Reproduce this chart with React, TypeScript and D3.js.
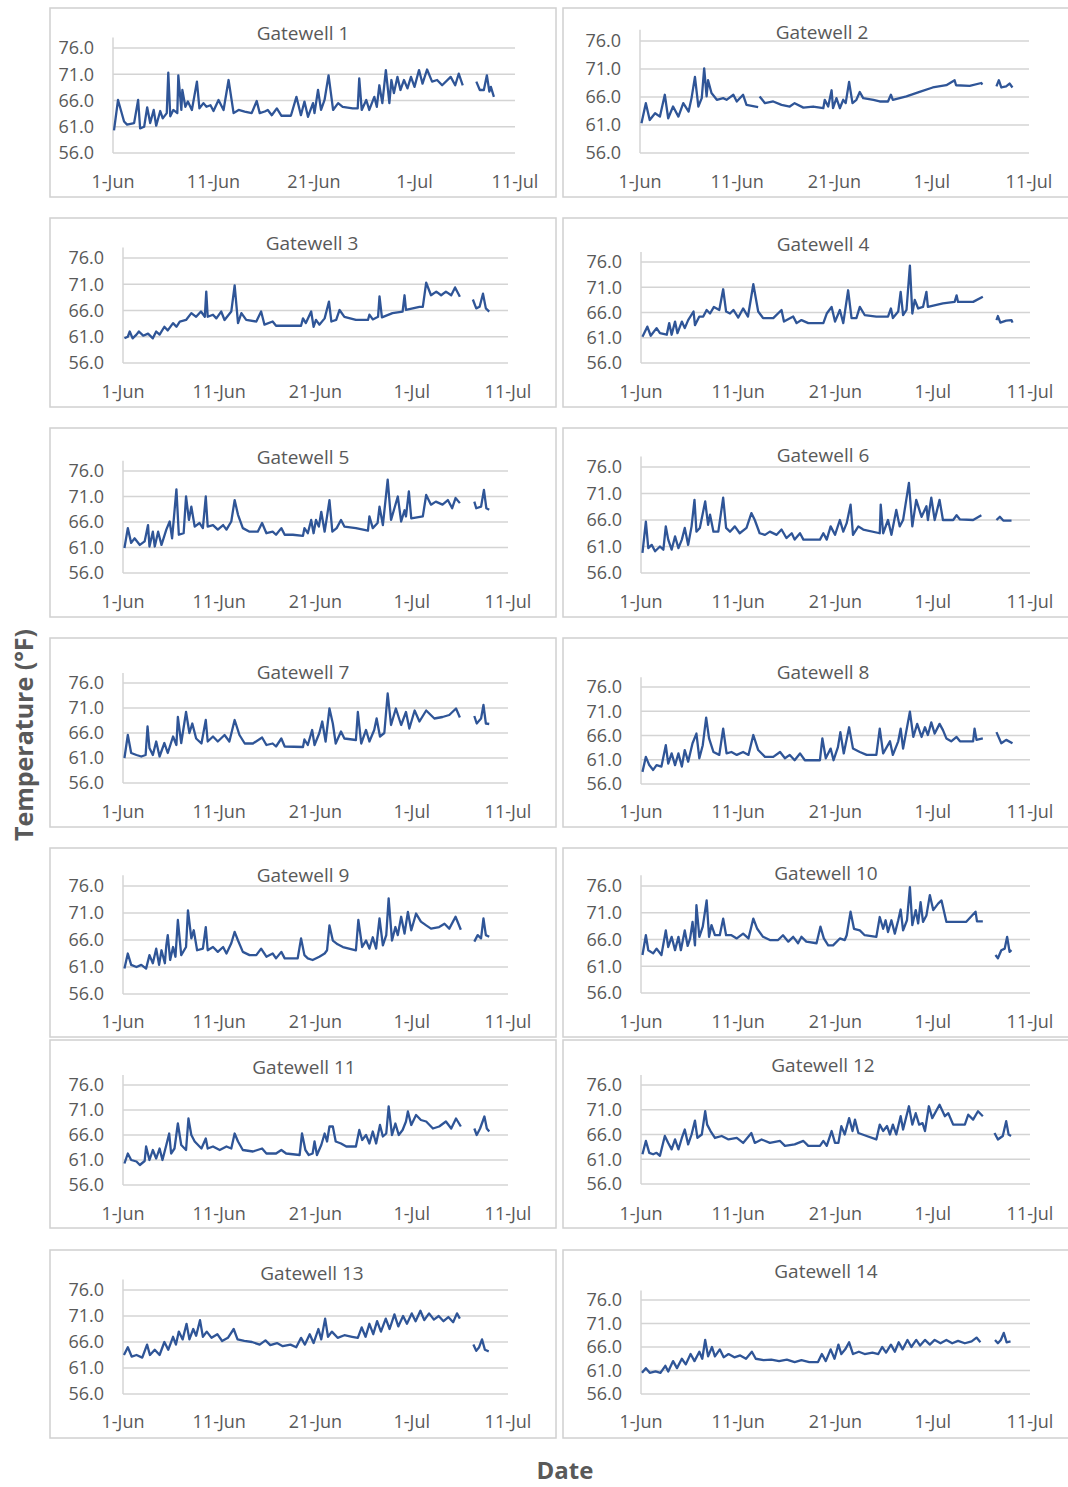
import React from 'react';
import * as d3 from 'd3';

type Pt = [number, number] | null;

// Day offsets from 1-Jun (0 = 1-Jun 00:00), temperature in °F. null = gap in record.
const TITLES = [
  'Gatewell 1', 'Gatewell 2', 'Gatewell 3', 'Gatewell 4', 'Gatewell 5', 'Gatewell 6', 'Gatewell 7',
  'Gatewell 8', 'Gatewell 9', 'Gatewell 10', 'Gatewell 11', 'Gatewell 12', 'Gatewell 13', 'Gatewell 14',
];
const Y_TICKS = [56, 61, 66, 71, 76];
const Y_MAX = 78;
const X_TICK_DAYS = [0, 10, 20, 30, 40];
const X_TICK_LABELS = ['1-Jun', '11-Jun', '21-Jun', '1-Jul', '11-Jul'];

const GW1: Pt[] = [[0.1,60.3],[0.5,66.1],[1.1,62],[1.4,61.4],[2.1,61.7],[2.5,66.1],[2.7,60.7],[3.1,61],[3.4,64.7],[3.7,61.7],[4.05,64.2],[4.3,61.2],[4.7,64],[4.95,62.6],[5.35,63.6],[5.5,71.3],[5.7,63],[6.0,64.2],[6.4,63.6],[6.5,70.8],[6.8,64.2],[6.9,68],[7.2,64.8],[7.45,65.8],[7.85,64.2],[8.35,69.6],[8.6,64.5],[9.0,65.5],[9.3,64.8],[9.7,65.1],[10.0,64],[10.5,66.1],[11.0,64.2],[11.5,69.9],[12.0,63.6],[12.5,64.2],[13.1,63.9],[13.8,63.6],[14.3,65.9],[14.6,63.6],[15.1,63.9],[15.4,64.2],[15.8,63.2],[16.3,64.5],[16.75,63.1],[17.7,63.1],[18.25,66.7],[18.7,63.2],[19.05,65.8],[19.4,62.9],[19.9,65.5],[20.05,63.6],[20.4,68],[20.7,64.2],[21.05,66.1],[21.45,70.8],[21.9,64.2],[22.4,65.5],[22.85,64.8],[23.85,64.5],[24.35,64.5],[24.5,70.2],[24.75,64.2],[25.2,66.1],[25.5,64.2],[26.0,66.7],[26.25,64.8],[26.5,68.9],[26.8,65.5],[27.15,71.8],[27.5,65.5],[27.7,69.9],[27.95,67.4],[28.3,70.5],[28.6,68],[28.95,69.9],[29.3,68.3],[29.65,70.5],[30.0,68.6],[30.45,71.8],[30.8,69.2],[31.25,71.9],[31.75,69.6],[32.25,69.9],[32.75,68.9],[33.6,70.5],[34.05,68.9],[34.4,71.1],[34.8,68.9],null,[36.15,69.6],[36.5,68],[36.9,68],[37.2,70.8],[37.45,67.7],[37.6,68.6],[37.9,66.7]];

const GW2: Pt[] = [[0.15,61.3],[0.6,64.9],[1.0,61.9],[1.55,63.1],[2.05,62.5],[2.55,66.4],[2.9,62.2],[3.4,64.3],[3.95,62.5],[4.45,64.9],[5.0,63.4],[5.3,65.8],[5.65,69.6],[6.0,64.3],[6.35,65.8],[6.6,71.1],[6.85,66.1],[7.0,69.0],[7.35,66.7],[7.9,65.5],[8.55,65.8],[8.9,65.5],[9.6,66.4],[9.95,65.2],[10.6,66.4],[10.95,64.6],[12.15,64.2],null,[12.3,66.1],[12.85,64.9],[13.7,65.2],[14.55,64.6],[15.4,64.3],[15.9,64.9],[16.8,64.1],[17.8,64.3],[18.85,64.0],[19.0,65.5],[19.35,64.3],[19.7,67.2],[19.85,64.0],[20.2,65.8],[20.55,64.0],[20.9,65.5],[21.15,64.9],[21.5,68.7],[21.85,64.9],[22.25,65.5],[22.6,66.9],[22.95,65.8],[24.0,65.5],[24.65,65.2],[25.5,65.2],[25.8,66.4],[26.0,65.5],[27.4,66.1],[28.75,66.9],[30.1,67.7],[31.5,68.1],[32.35,69.0],[32.5,68.1],[33.9,68.0],[35.1,68.5],[35.2,68.2],null,[36.65,67.9],[36.9,69.0],[37.15,67.7],[37.65,67.9],[38.0,68.4],[38.3,67.7]];

const GW3: Pt[] = [[0.15,60.7],[0.5,61.0],[0.7,62.0],[1.0,60.7],[1.4,61.4],[1.65,62.0],[2.1,61.2],[2.6,61.6],[3.1,60.7],[3.45,62.0],[3.8,61.4],[4.3,62.9],[4.65,62.2],[5.2,63.6],[5.55,62.9],[5.9,63.9],[6.55,64.2],[7.1,65.5],[7.6,64.8],[8.1,65.8],[8.5,64.8],[8.65,69.6],[8.8,64.8],[9.35,65.2],[9.7,64.5],[10.2,65.8],[10.55,64.2],[11.25,65.8],[11.6,70.8],[11.95,63.6],[12.3,65.5],[12.8,64.2],[13.85,63.9],[14.35,65.8],[14.7,63.3],[15.55,63.9],[15.9,63.1],[17.65,63.1],[18.5,63.1],[18.7,64.5],[19.0,63.6],[19.55,65.8],[19.8,62.9],[20.05,64.2],[20.4,63.3],[20.95,64.5],[21.4,67.7],[21.65,63.9],[22.15,64.2],[22.5,66.1],[23.0,64.8],[24.2,64.2],[25.45,64.2],[25.6,65.2],[25.95,64.3],[26.5,64.8],[26.65,68.7],[26.9,64.7],[28.0,65.5],[29.05,65.8],[29.25,68.9],[29.4,66.1],[30.8,66.7],[31.15,66.7],[31.5,71.3],[32.0,68.9],[32.55,69.6],[33.05,68.9],[33.55,69.6],[34.1,68.9],[34.5,70.4],[35.0,68.6],null,[36.35,68.1],[36.7,66.4],[37.05,66.7],[37.4,69.2],[37.7,66.4],[38.05,65.8]];

const GW4: Pt[] = [[0.15,61.2],[0.65,63.2],[1.0,61.4],[1.6,62.9],[1.95,61.9],[2.65,61.6],[2.9,63.9],[3.15,61.6],[3.5,64.2],[3.75,61.9],[4.2,64.2],[4.5,62.9],[4.85,64.5],[5.4,66.2],[5.55,63.5],[6.0,65.2],[6.4,65.2],[6.75,66.5],[7.1,65.8],[7.5,67.1],[8.05,66.5],[8.45,70.6],[8.75,66.2],[9.15,65.8],[9.5,66.5],[10.0,65.0],[10.5,66.8],[11.0,65.2],[11.55,71.6],[12.05,66.2],[12.55,64.9],[13.6,64.9],[14.45,66.5],[14.7,64.2],[15.65,65.2],[16.0,63.9],[16.5,64.5],[17.2,63.9],[18.75,63.9],[19.1,65.8],[19.6,67.1],[19.95,64.2],[20.45,66.5],[20.8,63.9],[21.3,70.4],[21.65,64.9],[22.15,64.9],[22.5,67.1],[23.0,65.5],[24.2,65.2],[25.4,65.2],[25.7,66.8],[25.9,64.9],[26.45,66.2],[26.7,70.1],[26.95,65.5],[27.3,66.5],[27.65,75.3],[27.9,65.8],[28.15,68.5],[28.5,66.8],[29.0,67.1],[29.35,70.1],[29.5,67.1],[31.05,67.8],[32.25,68.1],[32.45,69.4],[32.6,68.1],[34.15,68.1],[35.15,69.1],null,[36.55,64.5],[36.7,65.3],[36.95,64.0],[37.55,64.4],[38.1,64.5],[38.2,64.0]];

const GW5: Pt[] = [[0.15,60.9],[0.5,64.8],[0.85,61.9],[1.2,62.8],[1.75,61.5],[2.25,62.2],[2.6,65.4],[2.75,61.2],[3.1,64.1],[3.3,61.2],[3.65,64.1],[4.0,61.5],[4.5,64.5],[4.85,66.1],[5.1,62.8],[5.55,72.4],[5.8,63.5],[6.3,63.8],[6.55,71.0],[6.85,66.4],[7.1,69.0],[7.45,65.1],[7.95,65.8],[8.3,64.8],[8.6,71.0],[8.8,65.1],[9.35,65.4],[9.85,64.5],[10.4,65.4],[10.75,64.5],[11.25,66.1],[11.6,70.3],[11.95,67.4],[12.45,64.8],[13.15,64.1],[14.0,64.1],[14.45,65.8],[14.9,63.8],[15.55,64.1],[15.9,63.5],[16.45,64.8],[16.8,63.5],[17.65,63.5],[18.7,63.3],[18.85,64.8],[19.2,63.8],[19.55,66.4],[19.8,63.8],[20.05,66.4],[20.35,65.1],[20.6,68.0],[20.95,64.1],[21.2,67.1],[21.45,70.3],[21.75,64.1],[22.2,64.8],[22.65,66.4],[23.0,65.1],[24.2,64.8],[25.45,64.3],[25.6,67.1],[25.95,64.8],[26.45,65.8],[26.65,69.0],[27.0,65.4],[27.5,74.3],[27.85,66.4],[28.2,68.7],[28.55,71.0],[28.9,66.1],[29.25,68.3],[29.4,67.1],[29.7,72.0],[29.95,66.7],[31.15,67.1],[31.5,71.3],[32.0,69.4],[32.5,70.0],[33.2,69.4],[33.75,70.3],[34.2,68.7],[34.55,70.7],[35.0,69.7],null,[36.5,70.0],[36.7,68.7],[37.2,69.0],[37.5,72.3],[37.75,68.7],[38.05,68.4]];

const GW6: Pt[] = [[0.15,59.8],[0.5,65.7],[0.75,60.7],[1.1,61.3],[1.45,60.1],[1.95,61.0],[2.3,60.4],[2.55,64.8],[2.8,62.3],[3.15,60.4],[3.5,62.9],[3.85,60.7],[4.2,62.3],[4.5,64.5],[4.85,61.3],[5.2,64.8],[5.5,69.8],[5.7,63.8],[6.05,64.5],[6.6,69.5],[6.9,65.1],[7.1,67.0],[7.45,63.8],[7.95,63.8],[8.45,70.2],[8.75,64.5],[9.15,63.8],[9.65,64.8],[10.15,63.5],[10.85,64.5],[11.35,67.3],[11.7,66.0],[12.2,63.5],[12.75,63.2],[13.25,63.8],[13.95,63.2],[14.45,64.2],[14.95,62.6],[15.5,63.5],[15.8,62.3],[16.35,63.5],[16.7,62.3],[18.4,62.3],[18.75,63.5],[19.1,62.3],[19.5,64.8],[19.95,63.2],[20.45,66.0],[20.8,63.8],[21.15,65.4],[21.55,68.9],[21.8,63.2],[22.35,64.8],[22.85,64.2],[24.55,63.5],[24.65,68.9],[24.9,63.5],[25.4,66.0],[25.75,63.2],[26.25,67.9],[26.6,64.8],[26.95,66.0],[27.55,73.0],[27.9,64.8],[28.3,69.8],[28.85,66.6],[29.35,68.6],[29.5,66.0],[29.85,70.2],[30.2,66.0],[30.7,69.8],[31.05,66.0],[32.1,66.0],[32.45,66.9],[32.8,66.1],[34.15,66.0],[35.0,66.9],null,[36.55,66.0],[36.9,66.6],[37.25,65.9],[38.1,65.9]];

const GW7: Pt[] = [[0.15,61.0],[0.5,65.6],[0.85,62.0],[1.4,61.6],[1.9,61.3],[2.35,61.6],[2.55,67.3],[2.75,63.0],[3.1,61.6],[3.45,64.3],[3.8,61.3],[4.3,64.0],[4.65,62.0],[5.2,65.3],[5.55,63.6],[5.7,69.2],[6.05,64.0],[6.55,70.2],[6.9,66.0],[7.2,67.9],[7.6,64.9],[8.15,63.9],[8.6,68.6],[8.8,64.3],[9.35,65.3],[9.85,64.3],[10.55,65.6],[11.05,64.3],[11.6,68.6],[12.1,65.6],[12.65,63.9],[13.5,63.9],[14.45,65.1],[14.9,63.6],[15.55,63.9],[15.9,63.3],[16.45,64.9],[16.8,63.3],[18.7,63.2],[18.85,64.7],[19.2,63.6],[19.65,66.6],[19.9,63.6],[20.4,66.0],[20.7,68.3],[21.05,64.3],[21.45,70.9],[21.8,67.9],[22.1,63.9],[22.65,66.3],[23.0,64.9],[24.2,64.6],[24.4,70.2],[24.75,63.9],[25.25,66.6],[25.6,64.3],[26.1,66.6],[26.35,68.9],[26.7,65.3],[27.15,66.0],[27.5,73.9],[27.85,67.6],[28.35,70.9],[28.9,67.6],[29.4,70.2],[29.75,66.9],[30.3,70.5],[30.8,68.3],[31.5,70.5],[32.35,68.9],[33.2,69.2],[33.9,69.6],[34.6,70.9],[35.0,69.1],null,[36.5,69.4],[36.75,67.9],[37.2,68.9],[37.45,71.6],[37.7,67.9],[38.05,67.8]];

const GW8: Pt[] = [[0.15,58.5],[0.5,61.6],[0.85,59.9],[1.25,58.9],[1.6,59.9],[2.1,59.6],[2.55,64.0],[2.8,60.2],[3.15,62.3],[3.5,59.9],[3.85,62.3],[4.2,59.6],[4.5,63.0],[4.85,60.6],[5.3,64.4],[5.7,66.4],[6.0,61.3],[6.35,64.0],[6.7,69.7],[7.0,65.4],[7.45,62.6],[8.05,62.0],[8.45,67.4],[8.8,62.3],[9.3,62.6],[9.85,62.0],[10.5,62.6],[11.05,62.0],[11.55,66.1],[12.05,63.0],[12.75,61.6],[13.6,61.6],[14.3,62.6],[14.8,61.3],[15.3,62.0],[15.8,60.9],[16.35,62.3],[16.85,60.9],[18.4,60.9],[18.65,65.4],[19.0,61.3],[19.5,63.3],[19.8,60.9],[20.25,63.6],[20.5,66.7],[20.85,62.3],[21.4,67.7],[21.8,63.3],[22.5,62.6],[23.2,62.0],[24.2,62.0],[24.55,67.4],[24.9,62.3],[25.6,64.8],[25.9,62.0],[26.45,64.8],[26.7,67.4],[26.95,63.3],[27.65,70.9],[28.0,65.7],[28.4,68.4],[28.85,65.7],[29.2,67.7],[29.5,66.1],[29.85,68.7],[30.2,66.4],[30.7,68.4],[31.05,67.1],[31.4,65.4],[31.9,64.8],[32.45,65.7],[32.8,64.8],[34.15,64.8],[34.3,67.4],[34.5,65.1],[35.15,65.4],null,[36.55,66.7],[37.05,64.4],[37.55,65.1],[38.2,64.4]];

const GW9: Pt[] = [[0.15,60.7],[0.5,63.5],[0.85,61.4],[1.4,61.0],[1.9,61.4],[2.4,60.7],[2.75,63.2],[3.1,61.7],[3.45,64.4],[3.75,61.4],[4.0,64.1],[4.35,61.7],[4.5,65.0],[4.65,66.9],[4.9,62.3],[5.2,64.7],[5.45,62.9],[5.7,69.7],[6.05,63.2],[6.55,64.7],[6.75,71.5],[7.1,66.3],[7.35,67.8],[7.7,64.1],[8.3,64.4],[8.6,68.4],[8.8,64.1],[9.35,64.7],[9.85,63.8],[10.4,64.7],[10.75,63.5],[11.25,65.4],[11.6,67.5],[11.95,65.9],[12.45,63.8],[13.15,63.2],[13.85,63.2],[14.35,64.4],[14.9,62.9],[15.55,63.5],[15.9,62.6],[16.45,63.8],[16.8,62.6],[18.15,62.6],[18.5,66.3],[18.85,63.2],[19.2,62.6],[19.7,62.3],[20.4,62.9],[20.95,63.5],[21.2,64.1],[21.45,68.7],[21.8,65.9],[22.3,65.2],[22.85,64.7],[24.2,64.1],[24.45,69.7],[24.85,64.7],[25.25,65.9],[25.6,64.4],[25.95,66.5],[26.3,64.4],[26.65,70.0],[27.0,65.0],[27.35,66.9],[27.6,73.7],[27.95,65.9],[28.3,68.4],[28.55,66.9],[28.9,70.3],[29.25,67.2],[29.6,71.2],[29.95,67.8],[30.45,70.9],[30.95,69.4],[31.5,68.7],[32.0,68.1],[32.85,68.4],[33.4,69.0],[33.9,68.1],[34.55,70.3],[35.1,67.9],null,[36.5,65.7],[36.85,66.9],[37.2,66.3],[37.45,70.0],[37.7,66.9],[38.05,66.6]];

const GW10: Pt[] = [[0.15,63.1],[0.5,66.8],[0.75,64.0],[1.25,63.4],[1.6,64.3],[2.1,63.1],[2.55,67.7],[2.8,64.6],[3.15,66.5],[3.5,64.0],[3.85,66.5],[4.1,64.0],[4.5,67.7],[4.8,64.8],[5.05,66.2],[5.3,69.3],[5.55,64.9],[5.7,72.4],[6.0,66.5],[6.35,68.4],[6.75,73.3],[7.0,66.5],[7.25,68.7],[7.6,66.8],[8.1,66.8],[8.45,69.9],[8.75,66.8],[9.3,66.8],[9.85,66.2],[10.5,67.1],[11.05,66.2],[11.55,69.9],[11.95,68.0],[12.55,66.5],[13.25,65.9],[14.1,65.9],[14.6,66.8],[15.15,65.6],[15.65,66.5],[16.15,65.3],[16.5,66.5],[17.0,65.6],[18.05,65.3],[18.45,68.4],[18.8,66.2],[19.25,64.9],[19.75,64.9],[20.45,66.2],[20.95,65.9],[21.15,66.8],[21.55,71.2],[21.9,68.0],[22.5,67.7],[23.0,66.8],[24.2,66.5],[24.55,70.2],[24.9,68.0],[25.15,69.6],[25.4,67.4],[25.75,69.6],[26.1,67.1],[26.45,69.6],[26.7,71.6],[26.95,67.7],[27.35,69.6],[27.65,75.8],[27.9,68.7],[28.25,71.5],[28.5,69.0],[28.75,73.0],[29.0,69.3],[29.35,70.5],[29.7,74.3],[30.05,71.5],[30.55,72.7],[30.9,73.3],[31.4,69.3],[32.1,69.3],[33.45,69.3],[34.4,71.2],[34.55,69.4],[35.15,69.4],null,[36.45,63.1],[36.7,62.5],[37.05,64.0],[37.4,64.3],[37.65,66.5],[37.9,63.7],[38.1,64.0]];

const GW11: Pt[] = [[0.15,60.3],[0.5,62.3],[0.85,61.0],[1.4,60.7],[1.75,60.0],[2.25,60.8],[2.4,63.7],[2.75,61.0],[3.1,63.0],[3.45,61.3],[3.8,63.3],[4.1,61.0],[4.5,64.0],[4.8,66.3],[5.0,62.3],[5.35,63.3],[5.7,68.3],[6.05,64.0],[6.55,63.0],[6.8,69.3],[7.1,66.0],[7.45,64.7],[8.15,63.3],[8.6,65.3],[8.8,63.3],[9.35,63.7],[10.05,63.0],[10.75,63.7],[11.25,63.3],[11.6,66.3],[11.95,64.7],[12.45,63.0],[13.5,62.7],[14.45,63.3],[14.9,62.3],[15.9,62.3],[16.45,63.0],[16.95,62.3],[18.35,62.0],[18.6,66.3],[18.95,63.0],[19.3,62.0],[19.7,62.3],[19.9,64.7],[20.15,62.0],[20.6,64.0],[20.95,66.3],[21.2,64.7],[21.45,67.7],[21.8,67.7],[22.1,64.7],[22.65,64.3],[23.2,63.7],[24.2,63.7],[24.55,67.0],[24.85,65.0],[25.25,66.0],[25.6,64.3],[25.95,66.7],[26.3,64.3],[26.7,68.0],[27.0,65.7],[27.35,66.3],[27.6,71.7],[27.95,66.0],[28.3,68.3],[28.65,66.0],[29.05,67.0],[29.4,68.7],[29.6,70.7],[29.95,68.0],[30.45,70.0],[30.95,69.0],[31.5,68.7],[32.2,67.3],[32.85,67.7],[33.55,68.7],[34.1,67.3],[34.6,69.3],[35.1,67.7],null,[36.5,67.3],[36.75,66.0],[37.1,67.3],[37.55,69.7],[37.8,67.3],[38.05,66.7]];

const GW12: Pt[] = [[0.15,62.0],[0.5,64.7],[0.85,62.3],[1.25,62.0],[1.6,62.3],[1.95,61.7],[2.45,65.7],[2.8,64.3],[3.15,63.0],[3.5,65.0],[3.85,63.0],[4.2,65.3],[4.5,67.0],[4.85,64.0],[5.2,66.0],[5.55,68.8],[5.8,65.3],[6.25,66.0],[6.6,70.7],[6.8,68.0],[7.15,66.7],[7.6,65.3],[8.3,65.7],[9.0,65.0],[9.85,65.3],[10.5,64.3],[11.35,66.3],[11.7,64.3],[12.4,65.0],[13.25,64.3],[14.3,64.7],[14.8,63.7],[15.8,64.0],[16.7,64.7],[17.2,63.7],[18.4,63.7],[18.75,64.7],[19.1,63.7],[19.6,66.7],[19.95,64.3],[20.3,64.3],[20.6,67.7],[20.95,66.0],[21.4,69.3],[21.75,66.7],[22.0,69.0],[22.35,66.3],[23.2,65.7],[24.2,65.0],[24.55,68.0],[24.9,66.7],[25.3,67.7],[25.6,66.0],[25.9,68.0],[26.25,66.0],[26.7,69.7],[26.95,67.0],[27.55,71.7],[27.9,68.0],[28.25,70.3],[28.6,68.0],[28.95,68.3],[29.2,66.7],[29.6,71.7],[29.95,69.3],[30.7,72.0],[31.25,69.7],[31.6,70.3],[32.1,68.0],[33.3,68.0],[33.65,70.0],[34.15,69.0],[34.65,70.7],[35.15,69.7],null,[36.35,66.3],[36.7,65.0],[37.2,65.7],[37.55,68.7],[37.8,66.0],[38.05,65.7]];

const GW13: Pt[] = [[0.1,63.5],[0.5,65],[0.9,63.2],[1.4,63.5],[2.0,63],[2.5,65.5],[2.8,63.5],[3.3,64.5],[3.8,63.5],[4.3,66],[4.7,64.5],[5.2,67],[5.5,65.5],[5.8,68],[6.2,66.5],[6.6,69.5],[6.9,66.5],[7.3,68.5],[7.6,67.2],[8.0,70.2],[8.3,67],[8.7,68],[9.2,66.8],[9.8,67.5],[10.3,66.2],[10.9,66.8],[11.5,68.5],[11.9,66.5],[12.6,66.2],[13.4,66],[14.2,65.5],[14.8,66.3],[15.3,65.4],[16.0,65.8],[16.6,65.2],[17.4,65.5],[18.0,65],[18.5,66.8],[18.9,65.5],[19.4,67.5],[19.8,65.8],[20.3,68.5],[20.6,66.5],[21.0,70.5],[21.3,67],[21.7,68],[22.3,66.8],[23.0,67.3],[23.8,67],[24.4,66.8],[24.8,68.8],[25.2,67],[25.6,69.5],[26.0,67.5],[26.4,70],[26.8,68],[27.3,70.5],[27.7,68.5],[28.2,71.3],[28.6,69],[29.1,71],[29.5,69.5],[30.0,71.5],[30.4,70],[30.9,72],[31.3,70.2],[31.8,71.5],[32.3,70.3],[32.8,71],[33.3,70],[33.8,70.8],[34.3,69.8],[34.7,71.5],[35.0,70.5],null,[36.4,65.5],[36.7,64.3],[37.0,65],[37.3,66.5],[37.6,64.5],[38.0,64.2]];

const GW14: Pt[] = [[0.1,60.5],[0.5,61.5],[0.9,60.5],[1.5,60.8],[2.0,60.5],[2.5,62],[2.8,60.8],[3.3,63],[3.7,61.5],[4.2,63.5],[4.6,62.3],[5.1,64.5],[5.5,63],[6.0,65],[6.3,63.5],[6.6,67.5],[6.9,64],[7.3,66],[7.6,64],[8.1,65.5],[8.5,63.8],[9.0,64.5],[9.6,63.8],[10.2,64.2],[10.8,63.5],[11.4,65],[11.8,63.5],[12.6,63.2],[13.4,63.3],[14.2,63],[15.0,63.3],[15.8,62.8],[16.5,63.2],[17.3,62.8],[18.2,62.8],[18.6,64.5],[19.0,63],[19.5,65.5],[19.9,63.5],[20.3,66.5],[20.6,64.5],[21.0,65.5],[21.4,67],[21.8,64.5],[22.4,65],[23.0,64.5],[23.8,64.8],[24.4,64.5],[24.8,66],[25.2,64.8],[25.7,66.5],[26.1,65],[26.5,67],[26.9,65.5],[27.4,67.5],[27.8,66],[28.3,67.5],[28.7,66.3],[29.2,67.5],[29.7,66.5],[30.2,67.5],[30.8,66.8],[31.4,67.5],[32.0,66.8],[32.6,67.3],[33.3,66.8],[34.0,67.2],[34.5,68],[34.9,67],null,[36.4,67.5],[36.7,66.8],[37.0,67.5],[37.3,69],[37.6,67],[38.0,67.2]];

const SERIES: Pt[][] = [GW1, GW2, GW3, GW4, GW5, GW6, GW7, GW8, GW9, GW10, GW11, GW12, GW13, GW14];

// ---- layout (pixels) ----
// [boxX, boxY, boxW, boxH, xStart(1-Jun), xEnd(11-Jul), y76, y56, titleX, titleY, tickY]
const LAYOUT: number[][] = [
  [50, 8, 506, 189, 113, 515, 48, 153, 303, 33, 182],
  [563, 8, 520, 189, 640, 1029, 41, 153, 822, 32, 182],
  [50, 218, 506, 189, 123, 508, 258, 363, 312, 243, 392],
  [563, 218, 520, 189, 641, 1030, 262, 363, 823, 244, 392],
  [50, 428, 506, 189, 123, 508, 471, 573, 303, 457, 602],
  [563, 428, 520, 189, 641, 1030, 467, 573, 823, 455, 602],
  [50, 638, 506, 189, 123, 508, 683, 783, 303, 672, 812],
  [563, 638, 520, 189, 641, 1030, 687, 784, 823, 672, 812],
  [50, 848, 506, 189, 123, 508, 886, 994, 303, 875, 1022],
  [563, 848, 520, 189, 641, 1030, 886, 993, 826, 873, 1022],
  [50, 1040, 506, 188, 123, 508, 1085, 1185, 304, 1067, 1214],
  [563, 1040, 520, 188, 641, 1030, 1085, 1184, 823, 1065, 1214],
  [50, 1250, 506, 188, 123, 508, 1290, 1394, 312, 1273, 1422],
  [563, 1250, 520, 188, 641, 1030, 1300, 1394, 826, 1271, 1422],
];

const FONT = "'Open Sans', 'Noto Sans', sans-serif";
const TEXT = '#595959';
const GRID = '#d4d4d4';
const LINE = '#2f5597';
const TICK_FS = 18;
const TITLE_FS = 19;

function Panel({ idx }: { idx: number }) {
  const [bx, by, bw, bh, xs, xe, y76, y56, tx, ty, tickY] = LAYOUT[idx];
  const x = d3.scaleLinear().domain([X_TICK_DAYS[0], X_TICK_DAYS[X_TICK_DAYS.length - 1]]).range([xs, xe]);
  const y = d3.scaleLinear().domain([Y_TICKS[0], Y_TICKS[Y_TICKS.length - 1]]).range([y56, y76]);
  const line = d3
    .line<Pt>()
    .defined((d) => d !== null)
    .x((d) => x((d as [number, number])[0]))
    .y((d) => y((d as [number, number])[1]));
  const path = line(SERIES[idx]) || '';
  const capOff = 0.36;
  return (
    <g>
      <rect x={bx} y={by} width={bw} height={bh} fill="#fff" stroke="#d0d0d0" strokeWidth={1.5} />
      <text x={tx} y={ty + TITLE_FS * capOff} textAnchor="middle" fontFamily={FONT} fontSize={TITLE_FS} fill={TEXT}>
        {TITLES[idx]}
      </text>
      {Y_TICKS.map((t) => (
        <g key={t}>
          <line x1={xs} x2={xe} y1={y(t)} y2={y(t)} stroke={GRID} strokeWidth={1.5} />
          <text x={xs - 19} y={y(t) + TICK_FS * capOff} textAnchor="end" fontFamily={FONT} fontSize={TICK_FS} fill={TEXT}>
            {t.toFixed(1)}
          </text>
        </g>
      ))}
      <line x1={xs} x2={xs} y1={y(Y_MAX)} y2={y56} stroke={GRID} strokeWidth={1.5} />
      {X_TICK_DAYS.map((d, i) => (
        <text key={d} x={x(d)} y={tickY + TICK_FS * capOff} textAnchor="middle" fontFamily={FONT} fontSize={TICK_FS} fill={TEXT}>
          {X_TICK_LABELS[i]}
        </text>
      ))}
      <path d={path} fill="none" stroke={LINE} strokeWidth={2.3} strokeLinejoin="round" />
    </g>
  );
}

export default function App() {
  return (
    <svg
      width={1068}
      height={1487}
      style={{ position: 'absolute', left: 0, top: 0, background: '#fff', display: 'block' }}
    >
      <rect x={0} y={0} width={1068} height={1487} fill="#fff" />
      {LAYOUT.map((_, i) => (
        <Panel key={i} idx={i} />
      ))}
      <text
        transform="translate(33,735) rotate(-90)"
        textAnchor="middle"
        fontFamily={FONT}
        fontWeight={700}
        fontSize={25}
        fill={TEXT}
      >
        Temperature (°F)
      </text>
      <text x={565} y={1479} textAnchor="middle" fontFamily={FONT} fontWeight={700} fontSize={24} fill={TEXT}>
        Date
      </text>
    </svg>
  );
}
